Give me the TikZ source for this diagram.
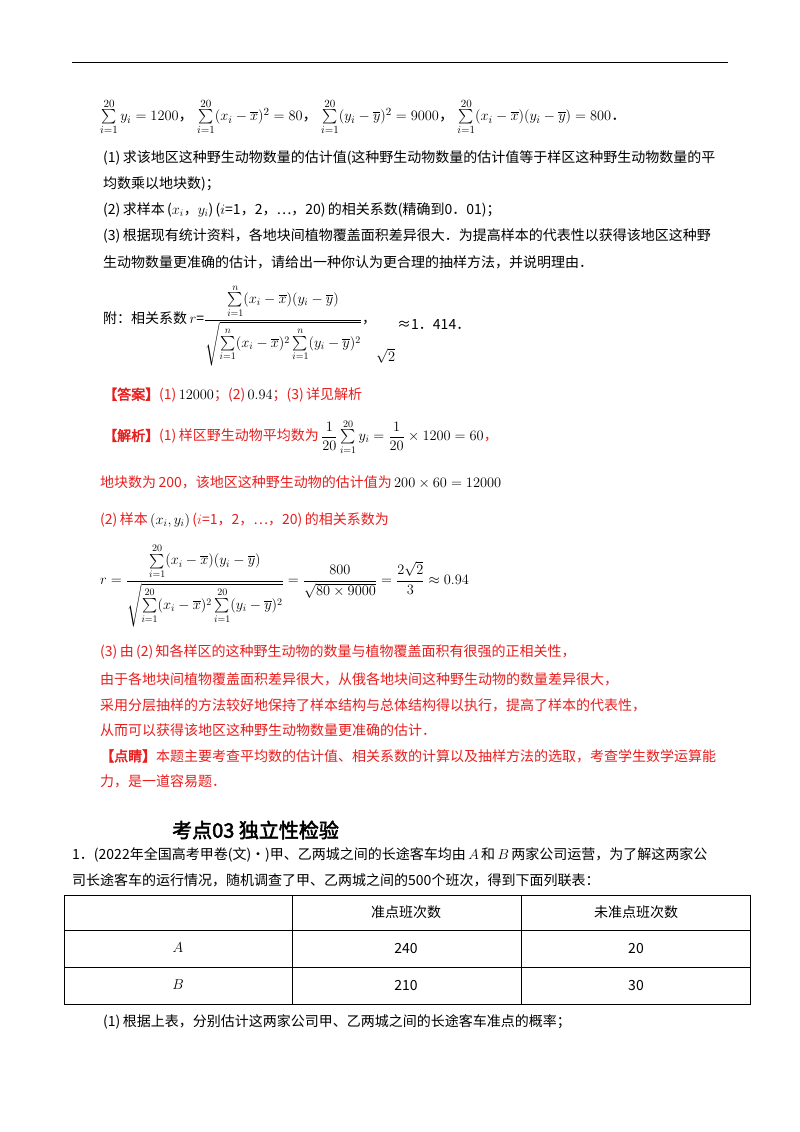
\documentclass[tikz,border=0pt]{standalone}
\usepackage{amsmath}
\usepackage{fontspec}
\setmainfont{Noto Sans CJK SC}[AutoFakeBold=2.5]
\definecolor{rd}{RGB}{232,30,30}
\begin{document}
\begin{tikzpicture}[x=1pt,y=1pt,
  t/.style={anchor=west,inner sep=0pt,font=\fontsize{14}{17}\selectfont},
  r/.style={t,text=rd}]
\useasboundingbox[fill=white] (0,0) rectangle (800,-1132);
\draw[line width=1pt] (72,-63) -- (728,-63);
\node[t,font=\fontsize{15}{18}\selectfont] (f0) at (100,-117) {$\sum\limits_{i=1}^{20}y_i=1200$，\ $\sum\limits_{i=1}^{20}(x_i-\overline{x})^2=80$，\ $\sum\limits_{i=1}^{20}(y_i-\overline{y})^2=9000$，\ $\sum\limits_{i=1}^{20}(x_i-\overline{x})(y_i-\overline{y})=800$．};
\node[t] (q1) at (103,-158) {(1)\,求该地区这种野生动物数量的估计值(这种野生动物数量的估计值等于样区这种野生动物数量的平};
\node[t] (q1b) at (103,-184) {均数乘以地块数)；};
\node[t] (q2) at (103,-210) {(2)\,求样本\,($x_i$，$y_i$)\,($i$=1，2，…，20)\,的相关系数(精确到0．01)；};
\node[t] (q3) at (103,-236) {(3)\,根据现有统计资料，各地块间植物覆盖面积差异很大．为提高样本的代表性以获得该地区这种野};
\node[t] (q3b) at (103,-262) {生动物数量更准确的估计，请给出一种你认为更合理的抽样方法，并说明理由．};
\node[t] (fu) at (103,-325) {附：相关系数\,$r$=$\dfrac{\sum\limits_{i=1}^{n}(x_i-\overline{x})(y_i-\overline{y})}{\sqrt{\sum\limits_{i=1}^{n}(x_i-\overline{x})^2\sum\limits_{i=1}^{n}(y_i-\overline{y})^2}}$，};
\node[t] (s2) at (376,-356) {$\sqrt{2}$};
\node[t] (ap) at (397,-325) {≈1．414．};
\node[r] (ans) at (103,-395) {\textbf{【答案】}(1)\,\textcolor{black}{$12000$}；(2)\,\textcolor{black}{$0.94$}；(3)\,详见解析};
\node[r] (j1) at (103,-437) {\textbf{【解析】}(1)\,样区野生动物平均数为\,\textcolor{black}{$\dfrac{1}{20}\sum\limits_{i=1}^{20}y_i=\dfrac{1}{20}\times1200=60$}，};
\node[r] (j2) at (100,-482) {地块数为\,200，该地区这种野生动物的估计值为\,\textcolor{black}{$200\times60=12000$}};
\node[r] (j3) at (100,-520) {(2)\,样本\,\textcolor{black}{$\left(x_i,y_i\right)$}\,($i$=1，2，…，20)\,的相关系数为};
\node[t] (rr) at (100,-585) {$r=\dfrac{\sum\limits_{i=1}^{20}(x_i-\overline{x})(y_i-\overline{y})}{\sqrt{\sum\limits_{i=1}^{20}(x_i-\overline{x})^2\sum\limits_{i=1}^{20}(y_i-\overline{y})^2}}=\dfrac{800}{\sqrt{80\times9000}}=\dfrac{2\sqrt{2}}{3}\approx0.94$};
\node[r] (k1) at (100,-652) {(3)\,由\,(2)\,知各样区的这种野生动物的数量与植物覆盖面积有很强的正相关性，};
\node[r] (k2) at (100,-679) {由于各地块间植物覆盖面积差异很大，从俄各地块间这种野生动物的数量差异很大，};
\node[r] (k3) at (100,-705) {采用分层抽样的方法较好地保持了样本结构与总体结构得以执行，提高了样本的代表性，};
\node[r] (k4) at (100,-730) {从而可以获得该地区这种野生动物数量更准确的估计．};
\node[r] (k5) at (100,-756) {\textbf{【点睛】}本题主要考查平均数的估计值、相关系数的计算以及抽样方法的选取，考查学生数学运算能};
\node[r] (k6) at (100,-781) {力，是一道容易题．};
\node[t,font=\fontsize{20}{24}\selectfont\bfseries] (h) at (172,-830) {考点03\ 独立性检验};
\node[t] (p1) at (72,-855) {1．(2022年全国高考甲卷(文)•)甲、乙两城之间的长途客车均由\,$A$\,和\,$B$\,两家公司运营，为了解这两家公};
\node[t] (p1b) at (72,-880) {司长途客车的运行情况，随机调查了甲、乙两城之间的500个班次，得到下面列联表：};
\draw (64,-895) rectangle (750,-1004);
\draw (64,-930) -- (750,-930) (64,-967) -- (750,-967) (292,-895) -- (292,-1004) (521,-895) -- (521,-1004);
\node[t,anchor=center] (c1) at (406,-912) {准点班次数};
\node[t,anchor=center] (c2) at (636,-912) {未准点班次数};
\node[t,anchor=center] (a0) at (178,-948) {$A$};
\node[t,anchor=center] (a1) at (406,-948) {240};
\node[t,anchor=center] (a2) at (636,-948) {20};
\node[t,anchor=center] (b0) at (178,-985) {$B$};
\node[t,anchor=center] (b1) at (406,-985) {210};
\node[t,anchor=center] (b2) at (636,-985) {30};
\node[t] (p2) at (103,-1022) {(1)\,根据上表，分别估计这两家公司甲、乙两城之间的长途客车准点的概率；};
\end{tikzpicture}
\end{document}
